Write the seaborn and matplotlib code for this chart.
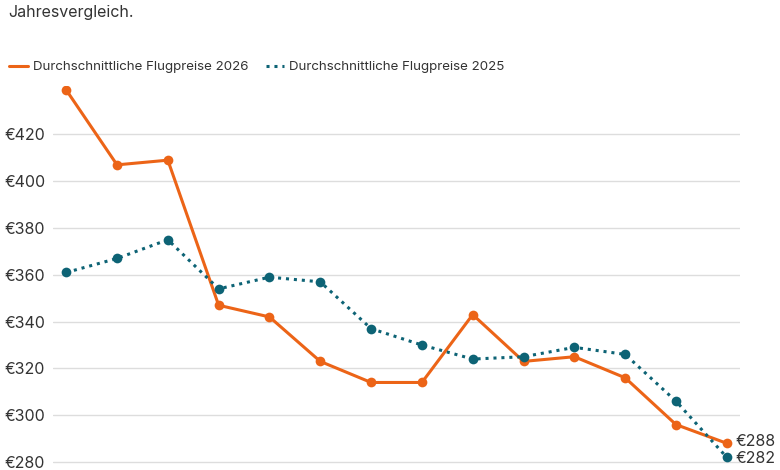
import pandas as pd
import seaborn as sns
import matplotlib.pyplot as plt

# Data (14 time points, no x labels shown)
punkte = list(range(14))
preise_2026 = [439, 407, 409, 347, 342, 323, 314, 314, 343, 323, 325, 316, 296, 288]
preise_2025 = [361, 367, 375, 354, 359, 357, 337, 330, 324, 325, 329, 326, 306, 282]
y_ticks = [280, 300, 320, 340, 360, 380, 400, 420]

label_2026 = "Durchschnittliche Flugpreise 2026"
label_2025 = "Durchschnittliche Flugpreise 2025"
orange = "#EC6417"
teal = "#0D6375"
text_col = "#333333"

df = pd.DataFrame({
    "punkt": punkte * 2,
    "preis": preise_2026 + preise_2025,
    "serie": [label_2026] * 14 + [label_2025] * 14,
})

sns.set_theme(style="white")
plt.rcParams["font.family"] = ["Inter", "DejaVu Sans"]

fig = plt.figure(figsize=(7.8, 4.7), dpi=100)
ax = fig.add_axes([53 / 780, 4 / 470, (740 - 53) / 780, (466 - 86) / 470])

sns.lineplot(data=df[df.serie == label_2026], x="punkt", y="preis", ax=ax,
             color=orange, linewidth=2.2, marker="o", markersize=7,
             markeredgewidth=0, label=label_2026)
sns.lineplot(data=df[df.serie == label_2025], x="punkt", y="preis", ax=ax,
             color=teal, linewidth=2.2, linestyle=(0, (1, 1.6)), marker="o",
             markersize=7, markeredgewidth=0, label=label_2025)

ax.set_xlim(-0.26, 13.26)
ax.set_ylim(278.3, 440.7)
ax.set_yticks(y_ticks)
ax.set_yticklabels([f"€{v}" for v in y_ticks], fontsize=11.5, color=text_col)
ax.set_xticks([])
ax.set_xlabel("")
ax.set_ylabel("")
ax.tick_params(axis="y", length=0, pad=5.5)
ax.grid(axis="y", color="#dddddd", linewidth=1)
ax.set_axisbelow(True)
for s in ax.spines.values():
    s.set_visible(False)

# end labels
ax.annotate(f"€{preise_2026[-1]}", (13, preise_2026[-1]), xytext=(6, 1),
            textcoords="offset points", va="center", fontsize=11.5, color=text_col)
ax.annotate(f"€{preise_2025[-1]}", (13, preise_2025[-1]), xytext=(6, -1),
            textcoords="offset points", va="center", fontsize=11.5, color=text_col)

ax.get_legend().remove()
handles, labels = ax.get_legend_handles_labels()
leg = fig.legend(handles, labels, loc="center left", bbox_to_anchor=(0.0, 1 - 67 / 470),
                 ncol=2, frameon=False, fontsize=9.6, handlelength=1.4,
                 handletextpad=0.35, columnspacing=1.3, borderaxespad=0.3)
for h in leg.legend_handles:
    h.set_marker("")
for t in leg.get_texts():
    t.set_color(text_col)

fig.text(8 / 780, 1 - 12 / 470, "Jahresvergleich.", fontsize=11.5, color=text_col,
         va="center", ha="left")

fig.savefig("out.png", dpi=100)
